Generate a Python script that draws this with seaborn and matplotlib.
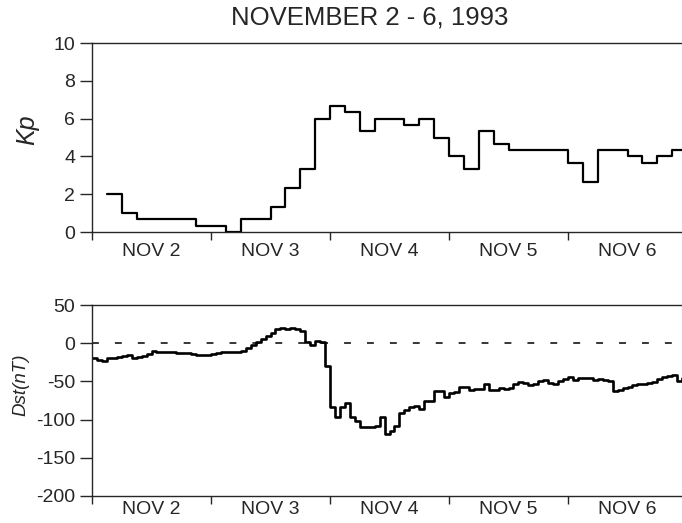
import matplotlib
matplotlib.use("Agg")
import matplotlib.pyplot as plt
import seaborn as sns
import numpy as np
import pandas as pd

# 3-hour Kp, intervals starting 03 UT Nov 2
kp_values = [2.0, 1.0, 0.67, 0.67, 0.67, 0.67, 0.33, 0.33, 0.0, 0.67,
             0.67, 1.33, 2.33, 3.33, 6.0, 6.67, 6.33, 5.33, 6.0, 6.0,
             5.67, 6.0, 5.0, 4.0, 3.33, 5.33, 4.67, 4.33, 4.33, 4.33,
             4.33, 3.67, 2.67, 4.33, 4.33, 4.0, 3.67, 4.0, 4.33]
kp_start_hour = 3

# hourly Dst (nT), from 00 UT Nov 2
dst_values = [-20, -22, -23, -20, -19, -18, -17, -16, -19, -18,
              -17, -14, -10, -11, -12, -12, -12, -13, -13, -13,
              -14, -15, -16, -16, -14, -13, -12, -12, -11, -11,
              -10, -6, -2, 2, 5, 9, 13, 18, 20, 18,
              20, 19, 16, 1, -2, 3, 2, -30, -84, -97,
              -83, -78, -97, -102, -110, -110, -110, -108, -96, -119,
              -115, -109, -92, -87, -84, -82, -86, -75, -75, -62,
              -62, -71, -65, -64, -57, -57, -61, -60, -60, -54,
              -61, -61, -58, -60, -58, -54, -51, -52, -55, -54,
              -50, -48, -52, -54, -50, -47, -44, -48, -45, -45,
              -46, -48, -47, -48, -50, -62, -61, -58, -57, -55,
              -54, -54, -52, -51, -47, -44, -43, -42, -50, -45]

day_labels = ["NOV 2", "NOV 3", "NOV 4", "NOV 5", "NOV 6"]
title = "NOVEMBER 2 - 6, 1993"

sns.set_style("ticks")
plt.rcParams['font.family'] = ['Liberation Sans', 'DejaVu Sans']
plt.rcParams['axes.unicode_minus'] = False

kp_df = pd.DataFrame({
    "hour": np.arange(len(kp_values) + 1) * 3 + kp_start_hour,
    "kp": kp_values + [kp_values[-1]],
})
dst_df = pd.DataFrame({
    "hour": np.arange(len(dst_values) + 1),
    "dst": dst_values + [dst_values[-1]],
})

W, H = 682, 523
fig = plt.figure(figsize=(W / 100, H / 100), dpi=100)
ax1 = fig.add_axes((92 / W, 1 - 232 / H, 595 / W, 189 / H))
ax2 = fig.add_axes((92 / W, 1 - 496 / H, 595 / W, 191 / H))

sns.lineplot(data=kp_df, x="hour", y="kp", ax=ax1, color="black",
             linewidth=1.6, drawstyle="steps-post", estimator=None)
sns.lineplot(data=dst_df, x="hour", y="dst", ax=ax2, color="black",
             linewidth=1.9, drawstyle="steps-post", estimator=None)
ax2.axhline(0, color="black", linewidth=1.1, linestyle=(0, (4.5, 10.5)))

ax1.set_ylim(0, 10)
ax1.set_yticks([0, 2, 4, 6, 8, 10])
ax2.set_ylim(-200, 50)
ax2.set_yticks([-200, -150, -100, -50, 0, 50])

for ax, lab_pad in ((ax1, 8), (ax2, 3.5)):
    ax.set_xlim(0, 120)
    ax.set_xticks([0, 24, 48, 72, 96])
    ax.set_xticklabels([])
    ax.set_xticks([12, 36, 60, 84, 108], minor=True)
    ax.set_xticklabels(day_labels, minor=True, fontsize=14)
    ax.tick_params(axis="x", which="minor", length=0, pad=lab_pad)
    ax.tick_params(axis="x", which="major", length=6, width=1.0, direction="out")
    ax.tick_params(axis="y", length=9, width=1.0, direction="out", labelsize=14, pad=3)
    ax.set_xlabel("")
    ax.set_ylabel("")
    for s in ax.spines.values():
        s.set_linewidth(1.0)
        s.set_visible(True)

fig.text(27 / W, 1 - 130 / H, "Kp", rotation=90, ha="center", va="center",
         fontsize=18, style="italic")
fig.text(21 / W, 1 - 385 / H, "Dst(nT)", rotation=90, ha="center", va="center",
         fontsize=13.5, style="italic")
fig.text(370 / W, 1 - 18 / H, title, ha="center", va="center", fontsize=18.5)

fig.savefig("out.png", dpi=100)
